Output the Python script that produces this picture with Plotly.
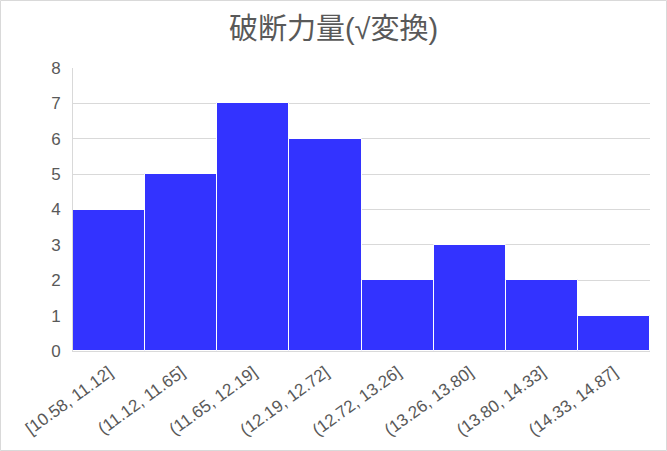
import plotly.graph_objects as go

categories = ["[10.58, 11.12]", "(11.12, 11.65]", "(11.65, 12.19]", "(12.19, 12.72]",
              "(12.72, 13.26]", "(13.26, 13.80]", "(13.80, 14.33]", "(14.33, 14.87]"]
counts = [4, 5, 7, 6, 2, 3, 2, 1]
title_text = "破断力量(√変換)"

W, H = 667, 451
ml, mr, mt, mb = 73, 17, 68, 100
pw, ph = W - ml - mr, H - mt - mb

fig = go.Figure(go.Bar(
    x=categories, y=counts,
    marker=dict(color="#3333FF", line=dict(color="white", width=1)),
))

fig.update_layout(
    width=W, height=H,
    margin=dict(l=ml, r=mr, t=mt, b=mb, autoexpand=False),
    paper_bgcolor="white", plot_bgcolor="white",
    bargap=0,
    showlegend=False,
    title=dict(text=title_text, x=0.5, xanchor="center", y=1 - 29 / H, yanchor="middle",
               font=dict(family="Liberation Sans, Noto Sans CJK JP", size=29, color="#595959")),
    font=dict(family="Liberation Sans", color="#595959"),
    xaxis=dict(type="category", tickangle=-36, tickfont=dict(size=17, color="#595959"),
               showline=True, linecolor="#d9d9d9", linewidth=1, ticks="", showgrid=False,
               ticklabelstandoff=4, automargin=False),
    yaxis=dict(range=[0, 8], dtick=1, tickfont=dict(size=17, color="#595959"),
               showgrid=True, gridcolor="#d9d9d9", gridwidth=1,
               showline=True, linecolor="#d9d9d9", linewidth=1, ticks="",
               ticklabelstandoff=8, zeroline=False, automargin=False),
    shapes=[dict(type="rect", xref="paper", yref="paper",
                 x0=(0.5 - ml) / pw, x1=(W - 0.5 - ml) / pw,
                 y0=-(mb - 0.5) / ph, y1=(H - 0.5 - mb) / ph,
                 line=dict(color="#d9d9d9", width=1), layer="below")],
)

fig.write_html("out.html", config={"displayModeBar": False},
               post_script="document.body.style.margin='0';document.body.style.overflow='hidden';")
